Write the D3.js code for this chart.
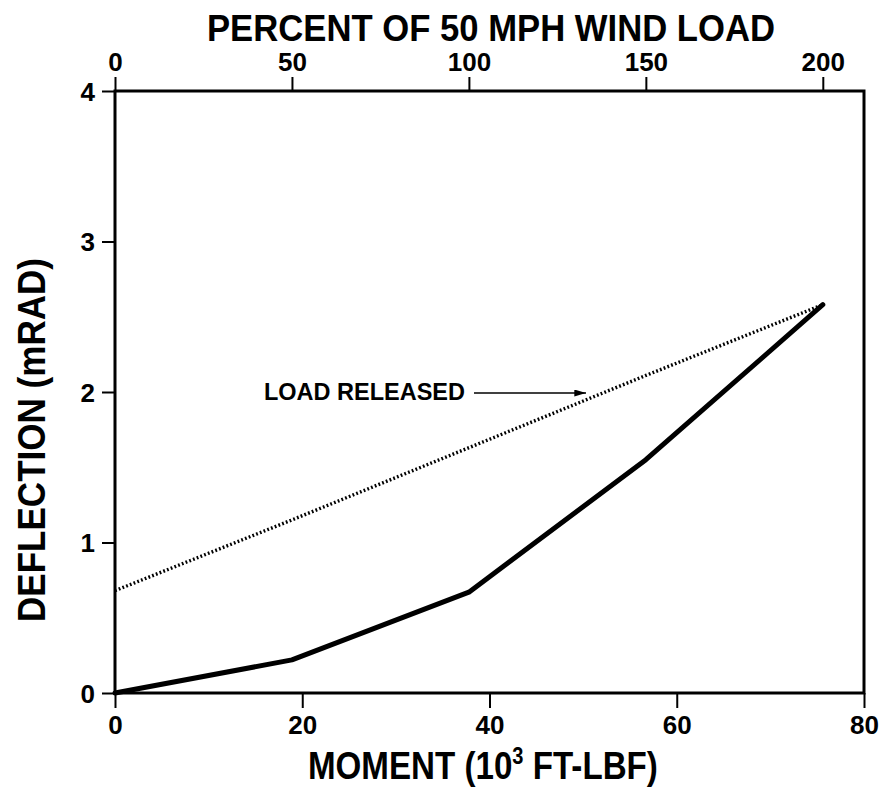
<!DOCTYPE html>
<html>
<head>
<meta charset="utf-8">
<script src="https://cdn.jsdelivr.net/npm/d3@7"></script>
<style>
  html, body { margin: 0; padding: 0; background: #fff; }
  svg { display: block; }
  text { font-family: "Liberation Sans", Arial, sans-serif; fill: #000; font-weight: bold; }
</style>
</head>
<body>
<svg id="chart" width="883" height="789"></svg>
<script>
// Moment (10^3 ft-lbf) at each load step, and the matching percent of 50 mph wind load
const moment = [0, 18.9, 37.8, 56.7, 75.6];
const percentLoad = [0, 50, 100, 150, 200];
// Deflection (mRAD) while loading, and the unloading path back from full load
const deflectionLoading = [0, 0.22, 0.67, 1.55, 2.58];
const deflectionReleased = [0.68, 1.15, 1.63, 2.11, 2.58];

const momentTicks = [0, 20, 40, 60, 80];
const percentTicks = [0, 50, 100, 150, 200];
const deflectionTicks = [0, 1, 2, 3, 4];

const margin = { top: 91, right: 19, bottom: 96, left: 115 };
const W = 883, H = 789;
const w = W - margin.left - margin.right;
const h = H - margin.top - margin.bottom;

const svg = d3.select("#chart");
const g = svg.append("g").attr("transform", `translate(${margin.left},${margin.top})`);

const x = d3.scaleLinear().domain([0, 80]).range([0, w]);
const y = d3.scaleLinear().domain([0, 4]).range([h, 0]);
// 200 % of the 50 mph load corresponds to the largest applied moment
const xTop = d3.scaleLinear()
  .domain([0, percentLoad[percentLoad.length - 1]])
  .range([0, x(moment[moment.length - 1])]);

// bottom axis
const axisB = g.append("g").attr("transform", `translate(0,${h})`)
  .call(d3.axisBottom(x).tickValues(momentTicks).tickFormat(d3.format("d")).tickSize(15).tickPadding(8));
// top axis
const axisT = g.append("g")
  .call(d3.axisTop(xTop).tickValues(percentTicks).tickFormat(d3.format("d")).tickSize(14).tickPadding(6));
// left axis
const axisL = g.append("g")
  .call(d3.axisLeft(y).tickValues(deflectionTicks).tickFormat(d3.format("d")).tickSize(13).tickPadding(7));

[axisB, axisT, axisL].forEach(a => {
  a.select(".domain").remove();
  a.selectAll(".tick line").attr("stroke", "#000").attr("stroke-width", 2);
  a.selectAll(".tick text").style("font-weight", "bold").style("font-size", "26px").attr("fill", "#000");
});
axisL.selectAll(".tick text").attr("dy", "0.36em");

// frame
g.append("rect").attr("x", 0).attr("y", 0).attr("width", w).attr("height", h)
  .attr("fill", "none").attr("stroke", "#000").attr("stroke-width", 3);

const line = d3.line().x(d => x(d[0])).y(d => y(d[1]));

// unloading path (dotted)
g.append("path")
  .datum(moment.map((m, i) => [m, deflectionReleased[i]]))
  .attr("d", line)
  .attr("fill", "none").attr("stroke", "#000").attr("stroke-width", 3.4)
  .attr("stroke-dasharray", "1.8,2.2");

// loading path (solid)
g.append("path")
  .datum(moment.map((m, i) => [m, deflectionLoading[i]]))
  .attr("d", line)
  .attr("fill", "none").attr("stroke", "#000").attr("stroke-width", 5)
  .attr("stroke-linejoin", "round").attr("stroke-linecap", "round");

// annotation with arrow
const defs = svg.append("defs");
defs.append("marker").attr("id", "arrowhead")
  .attr("viewBox", "0 0 10 6").attr("refX", 10).attr("refY", 3)
  .attr("markerWidth", 12).attr("markerHeight", 7).attr("markerUnits", "userSpaceOnUse")
  .attr("orient", "auto")
  .append("path").attr("d", "M0,0 L10,3 L0,6 Z").attr("fill", "#000");

svg.append("text").attr("x", 264).attr("y", 400)
  .attr("textLength", 201).attr("lengthAdjust", "spacingAndGlyphs")
  .style("font-size", "23px")
  .text("LOAD RELEASED");
svg.append("line").attr("x1", 474).attr("y1", 393).attr("x2", 586).attr("y2", 393)
  .attr("stroke", "#000").attr("stroke-width", 1.5).attr("marker-end", "url(#arrowhead)");

// axis titles
svg.append("text").attr("x", 207).attr("y", 41)
  .attr("textLength", 568).attr("lengthAdjust", "spacingAndGlyphs")
  .style("font-size", "37px")
  .text("PERCENT OF 50 MPH WIND LOAD");

// bottom title, squeezed horizontally to the narrow lettering width
const btG = svg.append("g");
const bt = btG.append("text").attr("x", 0).attr("y", 0).style("font-size", "38px");
bt.append("tspan").text("MOMENT (10");
bt.append("tspan").attr("dy", -15).style("font-size", "23px").text("3");
bt.append("tspan").attr("dy", 15).text(" FT-LBF)");
const natural = bt.node().getBBox().width;
btG.attr("transform", `translate(308,779) scale(${350 / natural},1)`);

svg.append("text")
  .attr("transform", "translate(45,258) rotate(-90)")
  .attr("text-anchor", "end")
  .attr("textLength", 364).attr("lengthAdjust", "spacingAndGlyphs")
  .style("font-size", "38px")
  .text("DEFLECTION (mRAD)");
</script>
</body>
</html>
